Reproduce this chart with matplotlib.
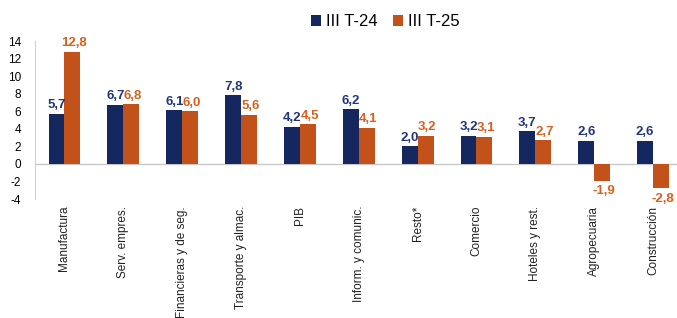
import matplotlib
matplotlib.use("Agg")
import matplotlib.pyplot as plt
import numpy as np

categories = ["Manufactura", "Serv. empres.", "Financieras y de seg.", "Transporte y almac.",
              "PIB", "Inform. y comunic.", "Resto*", "Comercio", "Hoteles y rest.",
              "Agropecuaria", "Construcción"]
t24 = [5.7, 6.7, 6.1, 7.8, 4.2, 6.2, 2.0, 3.2, 3.7, 2.6, 2.6]
t25 = [12.8, 6.8, 6.0, 5.6, 4.5, 4.1, 3.2, 3.1, 2.7, -1.9, -2.8]
series_names = ["III T-24", "III T-25"]
yticks = [-4, -2, 0, 2, 4, 6, 8, 10, 12, 14]

plt.rcParams['font.family'] = ['Liberation Sans', 'DejaVu Sans']

c_blue = "#15275f"
c_orange = "#c2511a"
lab_blue = "#22357a"
lab_orange = "#d4611f"

fig = plt.figure(figsize=(6.77, 3.18), dpi=100)
ax = fig.add_axes([35/677, 1-199/318, (682.5-35)/677, (199-41)/318])

x = np.arange(len(categories))
w = 0.27
ax.bar(x - w/2, t24, w, color=c_blue, label=series_names[0])
ax.bar(x + w/2, t25, w, color=c_orange, label=series_names[1])

def fmt(v):
    return f"{v:.1f}".replace(".", ",")

for xi, v in zip(x, t24):
    off = 0.3 if v >= 0 else -0.3
    ax.text(xi - w/2, v + off, fmt(v), ha="center", va="bottom" if v >= 0 else "top",
            color=lab_blue, fontsize=9.5, fontweight="bold")
for xi, v in zip(x, t25):
    off = 0.3 if v >= 0 else -0.5
    ax.text(xi + w/2 + 0.03, v + off, fmt(v), ha="center", va="bottom" if v >= 0 else "top",
            color=lab_orange, fontsize=9.5, fontweight="bold")

ax.set_xlim(-0.5, len(categories) - 0.5)
ax.set_ylim(-4, 14)
ax.set_yticks(yticks)
ax.set_yticklabels([str(t) for t in yticks], fontsize=8.5)
ax.set_xticks(x)
ax.set_xticklabels(categories, rotation=90, fontsize=8.5, va="top", color="#222222")
ax.tick_params(axis="x", length=0, pad=5)
ax.tick_params(axis="y", length=0, pad=10)
ax.axhline(0, color="#c8c8c8", lw=1, zorder=0)
for s in ["top", "right", "bottom"]:
    ax.spines[s].set_visible(False)
ax.spines["left"].set_color("#d0d0d0")

fig.legend(loc="center", bbox_to_anchor=(385/677, 1-22/318),
           ncol=2, frameon=False, fontsize=12, handlelength=0.6, handleheight=0.6,
           handletextpad=0.3, columnspacing=0.9)

fig.savefig("out.png", dpi=100)
